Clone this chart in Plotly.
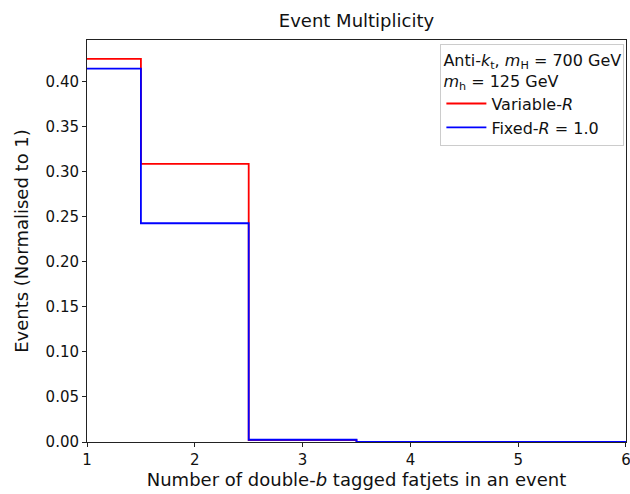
import plotly.graph_objects as go

# Bin centres (number of double-b tagged fatjets)
n_fatjets = [1, 2, 3, 4, 5, 6]
variable_r = [0.4256, 0.309, 0.002, 0.0, 0.0, 0.0]
fixed_r = [0.4149, 0.243, 0.0025, 0.0, 0.0, 0.0]
x_ticks = [1, 2, 3, 4, 5, 6]
y_ticks = [0.00, 0.05, 0.10, 0.15, 0.20, 0.25, 0.30, 0.35, 0.40]

def step_xy(centres, vals):
    edges = [c - 0.5 for c in centres] + [centres[-1] + 0.5]
    ys = list(vals) + [vals[-1]]
    xs = [edges[0]] + edges + [edges[-1]]
    ys = [0] + ys[:-1] + [ys[-2], 0]
    return xs, ys

FONT = "DejaVu Sans"
fig = go.Figure()
for name, vals, col in [("Variable-<i>R</i>", variable_r, "#ff0000"),
                        ("Fixed-<i>R</i> = 1.0", fixed_r, "#0000ff")]:
    xs, ys = step_xy(n_fatjets, vals)
    fig.add_trace(go.Scatter(x=xs, y=ys, mode="lines", name=name,
                             line=dict(color=col, width=1.8, shape="hv")))

fig.update_layout(
    width=630, height=494,
    margin=dict(l=87, r=4, t=40, b=52, autoexpand=False),
    paper_bgcolor="white", plot_bgcolor="white",
    font=dict(family=FONT, size=15, color="#111"),
    title=dict(text="Event Multiplicity", x=0.5, xref="paper", xanchor="center",
               y=1 - 21/494, yref="container", yanchor="middle",
               font=dict(size=18, family=FONT, color="#111")),
    showlegend=True,
    legend=dict(
        x=0.997, y=0.99, xanchor="right", yanchor="top",
        bgcolor="rgba(255,255,255,0.9)", bordercolor="#cccccc", borderwidth=1,
        font=dict(size=16, family=FONT),
        title=dict(text="Anti-<i>k</i><sub>t</sub>, <i>m</i><sub>H</sub> = 700 GeV<br><i>m</i><sub>h</sub> = 125 GeV",
                   font=dict(size=16, family=FONT)),
        itemwidth=40,
    ),
)
fig.update_xaxes(range=[0.9999, 6.0001], tickvals=x_ticks, ticktext=[str(v) for v in x_ticks],
                 showgrid=False, zeroline=False, showline=True, linecolor="#222",
                 linewidth=1, mirror=True, ticks="outside", ticklen=4, tickcolor="#222",
                 tickfont=dict(size=15), ticklabeloverflow="allow", automargin=False,
                 title=dict(text="Number of double-<i>b</i> tagged fatjets in an event",
                            font=dict(size=18), standoff=4))
fig.update_yaxes(range=[0, 0.4466], tickvals=y_ticks, ticktext=[f"{v:.2f}" for v in y_ticks],
                 showgrid=False, zeroline=False, showline=True, linecolor="#222",
                 linewidth=1, mirror=True, ticks="outside", ticklen=4, tickcolor="#222",
                 tickfont=dict(size=15), automargin=False,
                 title=dict(text="Events (Normalised to 1)", font=dict(size=18), standoff=12))

fig.write_html("out.html")
